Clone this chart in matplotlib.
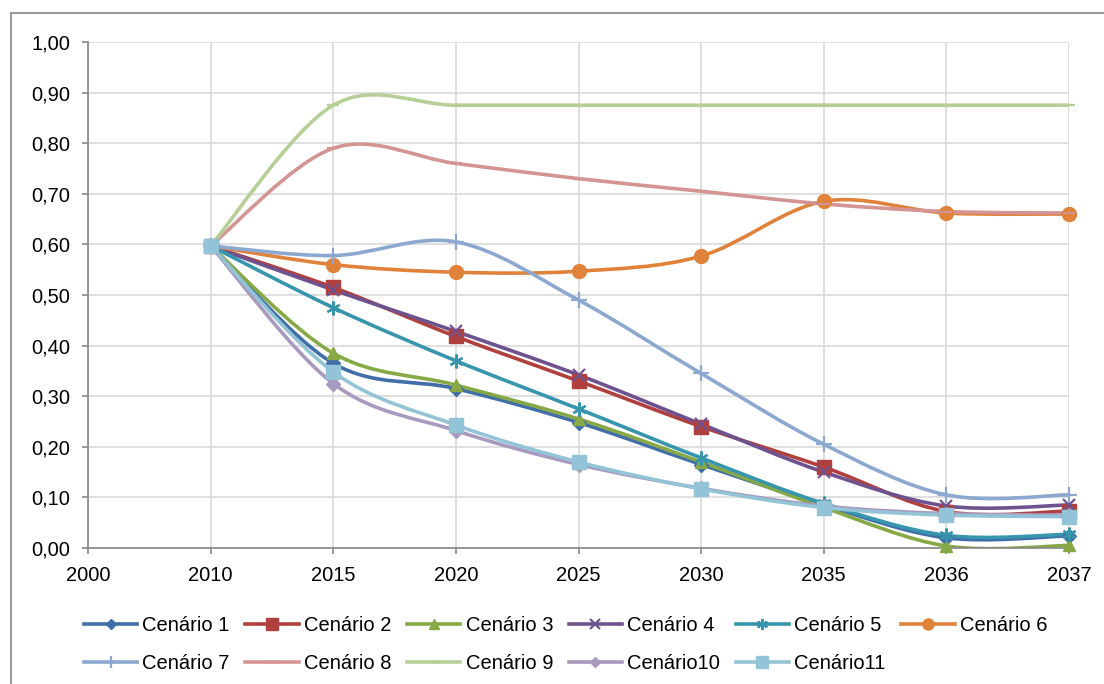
import matplotlib
matplotlib.use("Agg")
import matplotlib.pyplot as plt
from matplotlib.path import Path
from matplotlib.patches import PathPatch, Rectangle
from matplotlib.lines import Line2D
import numpy as np

plt.rcParams['font.family'] = ['Liberation Sans', 'DejaVu Sans']

categories = ['2000', '2010', '2015', '2020', '2025', '2030', '2035', '2036', '2037']

# values from 2010 onwards (index 1..8)
s1 = [0.597, 0.365, 0.315, 0.248, 0.165, 0.085, 0.020, 0.024]
s2 = [0.597, 0.515, 0.418, 0.330, 0.240, 0.160, 0.072, 0.073]
s3 = [0.597, 0.385, 0.322, 0.255, 0.170, 0.080, 0.004, 0.005]
s4 = [0.597, 0.510, 0.428, 0.342, 0.245, 0.150, 0.083, 0.085]
s5 = [0.597, 0.475, 0.370, 0.275, 0.178, 0.088, 0.025, 0.027]
s6 = [0.597, 0.560, 0.545, 0.547, 0.577, 0.685, 0.662, 0.660]
s7 = [0.597, 0.578, 0.605, 0.490, 0.345, 0.205, 0.105, 0.105]
s8 = [0.597, 0.790, 0.760, 0.730, 0.705, 0.680, 0.665, 0.662]
s9 = [0.597, 0.875, 0.875, 0.875, 0.875, 0.875, 0.875, 0.875]
s10 = [0.597, 0.325, 0.232, 0.165, 0.118, 0.083, 0.068, 0.065]
s11 = [0.597, 0.348, 0.243, 0.170, 0.117, 0.080, 0.065, 0.062]

names = ['Cenário 1', 'Cenário 2', 'Cenário 3', 'Cenário 4', 'Cenário 5', 'Cenário 6',
         'Cenário 7', 'Cenário 8', 'Cenário 9', 'Cenário10', 'Cenário11']
series = [s1, s2, s3, s4, s5, s6, s7, s8, s9, s10, s11]
colors = ['#3F6EA8', '#B0403D', '#86A845', '#6E5290', '#3796AE', '#E0823A',
          '#8CA8D0', '#D49494', '#B6CF96', '#A899BF', '#92C3D6']
markers = ['D', 's', '^', 'x', (6, 2, 0), 'o', '+', '_', '_', 'D', 's']
msizes = [7, 10, 9, 9, 10, 10, 11, 9, 9, 7, 10]


def smooth_path(x, y):
    # Excel-style smoothed line: cubic Bezier segments (Catmull-Rom, 1/6)
    pts = np.column_stack([x, y]).astype(float)
    n = len(pts)
    verts = [pts[0]]
    codes = [Path.MOVETO]
    for i in range(n - 1):
        p0 = pts[max(i - 1, 0)]
        p1 = pts[i]
        p2 = pts[i + 1]
        p3 = pts[min(i + 2, n - 1)]
        c1 = p1 + (p2 - p0) / 6.0
        c2 = p2 - (p3 - p1) / 6.0
        verts += [c1, c2, p2]
        codes += [Path.CURVE4] * 3
    return Path(verts, codes)


fig = plt.figure(figsize=(11.04, 6.84), dpi=100)
ax = fig.add_axes([88 / 1104, 1 - 548 / 684, (1069 - 88) / 1104, (548 - 42) / 684])

xpos = np.arange(1, len(categories))
handles = []
for vals, name, c, m, ms in zip(series, names, colors, markers, msizes):
    patch = PathPatch(smooth_path(xpos, vals), facecolor='none', edgecolor=c,
                      lw=2.6, capstyle='round', joinstyle='round', zorder=2)
    ax.add_patch(patch)
    mew = 1.6 if m in ('x', '+', '_', (6, 2, 0)) else 1
    ax.plot(xpos, vals, ls='none', marker=m, ms=ms, color=c, mec=c, mew=mew,
            zorder=3, clip_on=False)
    handles.append(Line2D([], [], color=c, lw=2.6, marker=m, ms=ms * 0.8, mec=c, mew=mew))

ax.set_xlim(0, len(categories) - 1)
ax.set_ylim(0, 1.0)
ax.set_xticks(range(len(categories)))
ax.set_xticklabels(categories)
yt = np.arange(0, 1.01, 0.1)
ax.set_yticks(yt)
ax.set_yticklabels([f'{v:.2f}'.replace('.', ',') for v in yt])
ax.grid(True, color='#D9D9D9', lw=1.2)
ax.set_axisbelow(True)
for s in ['top', 'right']:
    ax.spines[s].set_visible(False)
for s in ['left', 'bottom']:
    ax.spines[s].set_color('#868686')
    ax.spines[s].set_linewidth(1.2)
ax.tick_params(axis='both', colors='#868686', labelcolor='black', labelsize=14.5,
               length=4.3, width=1.2)
ax.tick_params(axis='y', pad=8.5)
ax.tick_params(axis='x', pad=8.5)

# legend filled row by row like Excel: reorder for matplotlib's column filling
order = [0, 6, 1, 7, 2, 8, 3, 9, 4, 10, 5]
fig.legend([handles[i] for i in order], [names[i] for i in order],
           loc='upper left', bbox_to_anchor=(84 / 1104, 1 - 616 / 684), ncol=6,
           frameon=False, fontsize=14.5, handlelength=2.65, handletextpad=0.25,
           columnspacing=0.78, labelspacing=0.95, borderpad=0, borderaxespad=0)

fig.add_artist(Rectangle((11 / 1104, -0.05), 1.1, 1.05 - 13 / 684,
                         transform=fig.transFigure, fill=False,
                         edgecolor='#868686', lw=1.2))

fig.savefig('out.png', dpi=100)
